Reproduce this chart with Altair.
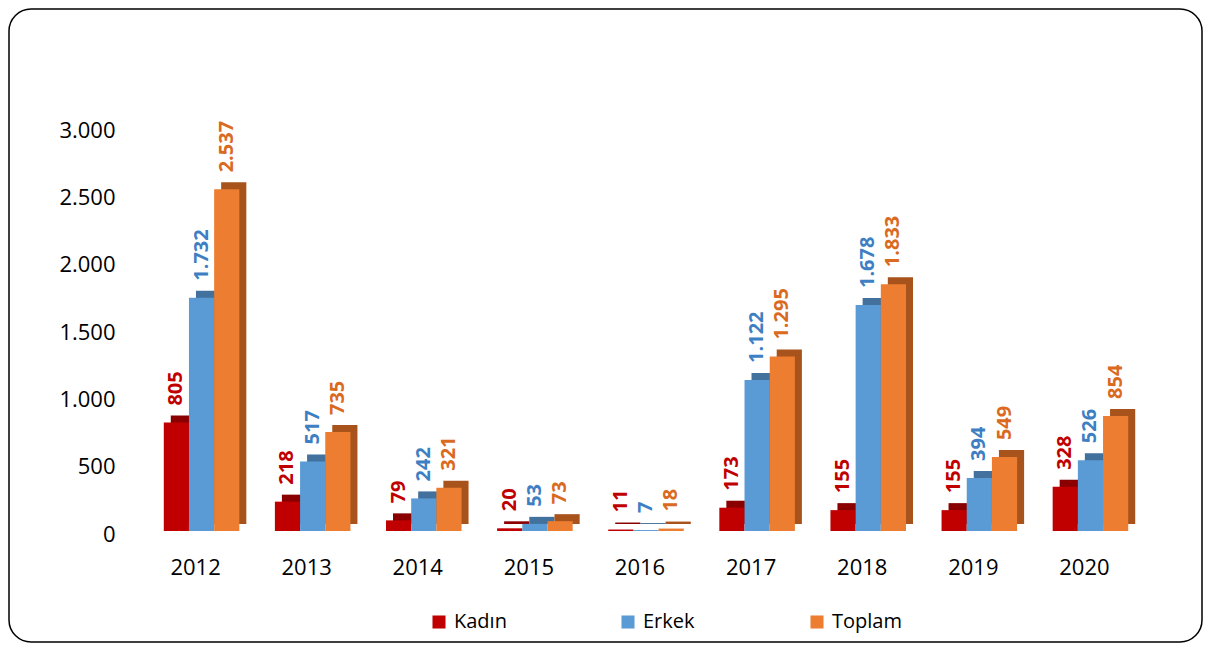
import altair as alt
import pandas as pd

years = ["2012", "2013", "2014", "2015", "2016", "2017", "2018", "2019", "2020"]
kadin = [805, 218, 79, 20, 11, 173, 155, 155, 328]
erkek = [1732, 517, 242, 53, 7, 1122, 1678, 394, 526]
toplam = [2537, 735, 321, 73, 18, 1295, 1833, 549, 854]
series = ["Kadın", "Erkek", "Toplam"]
colors = ["#C00000", "#5B9BD5", "#ED7D31"]
side_colors = ["#8A0000", "#41719C", "#A9531C"]
label_colors = ["#C00000", "#3E7FC3", "#DA6A1E"]

rows = []
for name, vals in zip(series, [kadin, erkek, toplam]):
    for y, v in zip(years, vals):
        rows.append({"year": y, "series": name, "value": v,
                     "label": f"{v:,}".replace(",", ".")})
df = pd.DataFrame(rows)

FONT = "Open Sans"
W, H = 1000, 404
BAND = W / 9 * 0.68
SHIFT = 6
DEPTH = 7

x_enc = alt.X("year:N", sort=years, title=None,
              scale=alt.Scale(paddingInner=0.32, paddingOuter=0.16),
              axis=alt.Axis(labelAngle=0, labelFontSize=22, labelFont=FONT,
                            labelColor="#000000", labelPadding=26,
                            domain=False, ticks=False, grid=False))


def xo(shift):
    return alt.XOffset("series:N", sort=series,
                       scale=alt.Scale(paddingInner=0, range=[shift, shift + BAND]))


y_main = alt.Y("value:Q", title=None,
               scale=alt.Scale(domain=[0, 3000], nice=False),
               axis=alt.Axis(values=[0, 500, 1000, 1500, 2000, 2500, 3000],
                             labelExpr="replace(format(datum.value, ','), ',', '.')",
                             labelFontSize=22, labelFont=FONT, labelColor="#000000",
                             labelPadding=25, labelOffset=3,
                             domain=False, ticks=False, grid=False))
y_plain = alt.Y("value:Q", title=None,
                scale=alt.Scale(domain=[0, 3000], nice=False), axis=None)
y_back = alt.Y("value:Q", title=None,
               scale=alt.Scale(domain=[0, 3000], nice=False, range=[H - DEPTH, -DEPTH]),
               axis=None)

base = alt.Chart(df)

back = base.mark_bar().encode(
    x=x_enc, xOffset=xo(SHIFT + DEPTH), y=y_back, y2=alt.value(H - 2),
    fill=alt.Fill("series:N", sort=series,
                  scale=alt.Scale(domain=series, range=side_colors), legend=None),
)

front = base.mark_bar().encode(
    x=x_enc, xOffset=xo(SHIFT), y=y_main,
    color=alt.Color("series:N", sort=series,
                    scale=alt.Scale(domain=series, range=colors),
                    legend=alt.Legend(title=None, orient="none", legendX=289, legendY=485,
                                      direction="horizontal", columns=3,
                                      gridAlign="all", columnPadding=94,
                                      symbolType="square", symbolSize=170,
                                      symbolStrokeWidth=0, labelFontSize=20,
                                      labelFont=FONT, labelColor="#000000",
                                      labelOffset=5)),
)

labels = base.mark_text(angle=270, align="left", baseline="middle", dx=17,
                        fontSize=20, fontWeight="bold", font=FONT).encode(
    x=x_enc, xOffset=xo(SHIFT), y=y_plain,
    text="label:N",
    color=alt.Color("series:N", sort=series,
                    scale=alt.Scale(domain=series, range=label_colors), legend=None),
)

border = alt.Chart(pd.DataFrame({"a": [0]})).mark_rect(
    fill=None, stroke="#000000", strokeWidth=1.5, cornerRadius=22
).encode(x=alt.value(-131), x2=alt.value(1062), y=alt.value(-118), y2=alt.value(515))

chart = alt.layer(back, front, labels, border).resolve_scale(
    y="independent", xOffset="independent", color="independent"
).properties(
    width=W, height=H,
    padding={"left": 132, "top": 119, "right": 63, "bottom": 113},
    autosize=alt.AutoSizeParams(type="none"),
    background="white",
).configure_view(stroke=None)

chart.save("out.html", embed_options={"renderer": "svg", "actions": False})
